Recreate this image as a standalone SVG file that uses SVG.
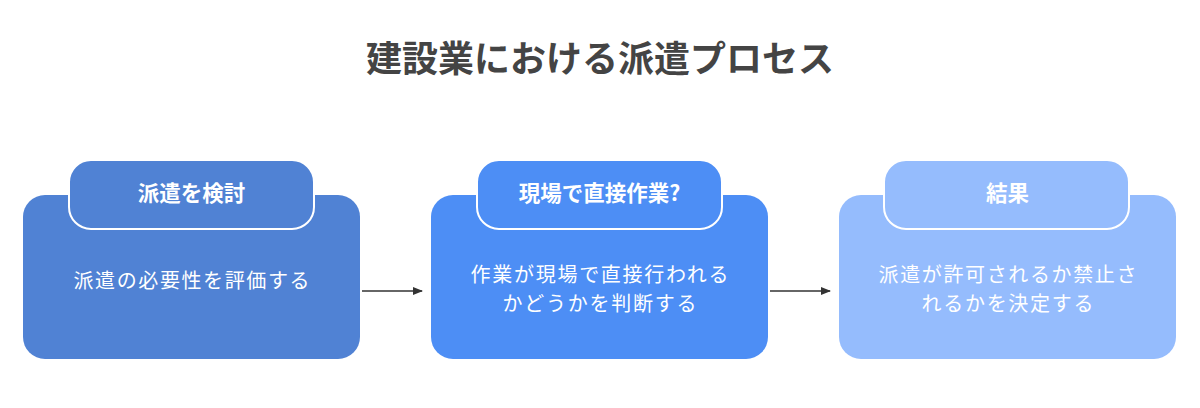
<svg xmlns="http://www.w3.org/2000/svg" width="1200" height="408" viewBox="0 0 1200 408">
<style>
.t{font-family:"Noto Sans CJK JP","Noto Sans",sans-serif;fill:#fff;text-anchor:middle}
.h{font-size:21.5px;font-weight:700}
.b{font-size:20px;font-weight:400}
.hd{stroke:#fff;stroke-width:2}
.c{stroke:#333;stroke-width:1.3;fill:none}
</style>
<defs>
<marker id="ah" markerWidth="10" markerHeight="10" refX="9" refY="5" orient="auto" markerUnits="userSpaceOnUse">
<path d="M0,1 L10,5 L0,9 Z" fill="#333"/>
</marker>
</defs>
<rect width="1200" height="408" fill="#fff"/>
<text x="600" y="72" font-family="'Noto Sans CJK JP','Noto Sans',sans-serif" font-size="36" font-weight="700" fill="#444" text-anchor="middle">建設業における派遣プロセス</text>
<g id="n1">
<rect x="23" y="195" width="337" height="164" rx="22" fill="#5082D4"/>
<rect x="69" y="160" width="245" height="69" rx="22" fill="#5082D4" class="hd"/>
<text x="191.5" y="201" class="t h">派遣を検討</text>
<text x="191.5" y="288" class="t b" textLength="236" lengthAdjust="spacing">派遣の必要性を評価する</text>
</g>
<g id="n2">
<rect x="431" y="195" width="337" height="164" rx="22" fill="#4D8EF5"/>
<rect x="477" y="160" width="245" height="69" rx="22" fill="#4D8EF5" class="hd"/>
<text x="599.5" y="201" class="t h">現場で直接作業?</text>
<text x="599.5" y="282" class="t b" textLength="258" lengthAdjust="spacing">作業が現場で直接行われる</text>
<text x="599.5" y="311" class="t b" textLength="194" lengthAdjust="spacing">かどうかを判断する</text>
</g>
<g id="n3">
<rect x="839" y="195" width="337" height="164" rx="22" fill="#95BCFD"/>
<rect x="884" y="160" width="245" height="69" rx="22" fill="#95BCFD" class="hd"/>
<text x="1007.5" y="201" class="t h">結果</text>
<text x="1007.5" y="282" class="t b" textLength="258" lengthAdjust="spacing">派遣が許可されるか禁止さ</text>
<text x="1007.5" y="311" class="t b" textLength="172" lengthAdjust="spacing">れるかを決定する</text>
</g>
<g id="connectors">
<line x1="362" y1="291" x2="422" y2="291" class="c" marker-end="url(#ah)"/>
<line x1="770" y1="291" x2="830" y2="291" class="c" marker-end="url(#ah)"/>
</g>
</svg>
